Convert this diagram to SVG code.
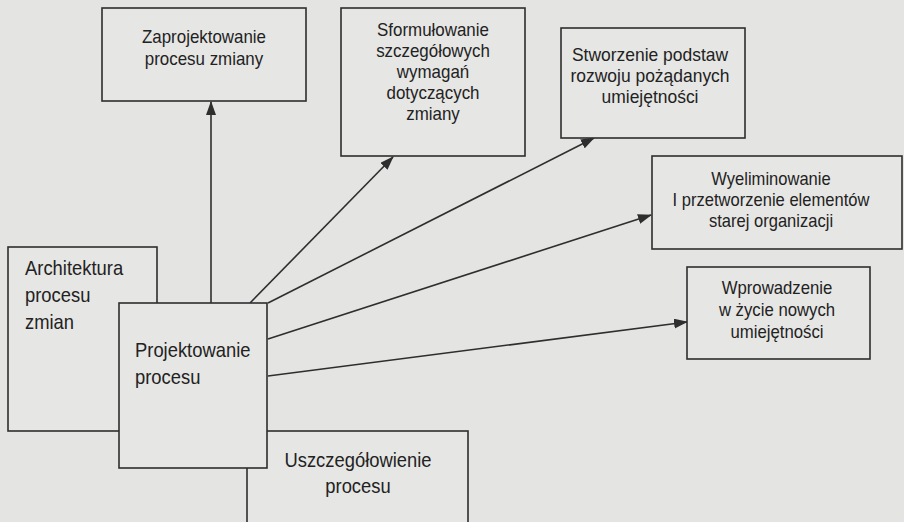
<svg xmlns="http://www.w3.org/2000/svg" width="904" height="522" viewBox="0 0 904 522">
<style>
.bg{fill:#e4e4e2}
.box{fill:#e6e6e4;stroke:#2e2e2e;stroke-width:1.6}
.edge{fill:none;stroke:#2e2e2e;stroke-width:1.6}
text{font-family:"Liberation Sans",Arial,sans-serif;font-size:20px;fill:#222}
.s{font-size:18px}
.c{text-anchor:middle}
</style>
<defs>
<marker id="ah" viewBox="0 0 14 10" refX="13" refY="5" markerWidth="14" markerHeight="10" markerUnits="userSpaceOnUse" orient="auto">
<path d="M0,0 L14,5 L0,10 Z" fill="#2e2e2e"/>
</marker>
</defs>
<rect class="bg" x="0" y="0" width="904" height="522"/>

<g id="connectors">
<line class="edge" x1="211" y1="303" x2="211" y2="102" marker-end="url(#ah)"/>
<line class="edge" x1="250" y1="303" x2="393" y2="157" marker-end="url(#ah)"/>
<line class="edge" x1="268" y1="303" x2="594" y2="138" marker-end="url(#ah)"/>
<line class="edge" x1="268" y1="339" x2="651" y2="215" marker-end="url(#ah)"/>
<line class="edge" x1="268" y1="376" x2="687" y2="322" marker-end="url(#ah)"/>
</g>

<g id="zaprojektowanie">
<rect class="box" x="102" y="8" width="204" height="93"/>
<g transform="translate(204,0) scale(0.94,1)">
<text class="c s" x="0" y="43">Zaprojektowanie</text>
<text class="c s" x="0" y="65">procesu zmiany</text>
</g>
</g>

<g id="sformulowanie">
<rect class="box" x="341" y="8" width="184" height="148"/>
<g transform="translate(433,0) scale(0.94,1)">
<text class="c s" x="0" y="36">Sformułowanie</text>
<text class="c s" x="0" y="57">szczegółowych</text>
<text class="c s" x="0" y="78">wymagań</text>
<text class="c s" x="0" y="99">dotyczących</text>
<text class="c s" x="0" y="120">zmiany</text>
</g>
</g>

<g id="stworzenie">
<rect class="box" x="561" y="28" width="184" height="110"/>
<g transform="translate(650,0) scale(0.97,1)">
<text class="c s" x="0" y="61">Stworzenie podstaw</text>
<text class="c s" x="0" y="82">rozwoju pożądanych</text>
<text class="c s" x="0" y="103">umiejętności</text>
</g>
</g>

<g id="wyeliminowanie">
<rect class="box" x="652" y="156" width="250" height="93"/>
<g transform="translate(771,0) scale(0.92,1)">
<text class="c s" x="0" y="185">Wyeliminowanie</text>
<text class="c s" x="0" y="206">I przetworzenie elementów</text>
<text class="c s" x="0" y="227">starej organizacji</text>
</g>
</g>

<g id="wprowadzenie">
<rect class="box" x="687" y="267" width="183" height="92"/>
<g transform="translate(777,0) scale(0.93,1)">
<text class="c s" x="0" y="294">Wprowadzenie</text>
<text class="c s" x="0" y="316">w życie nowych</text>
<text class="c s" x="0" y="338">umiejętności</text>
</g>
</g>

<g id="architektura">
<rect class="box" x="8" y="247" width="149" height="184"/>
<g transform="translate(25,0) scale(0.92,1)">
<text x="0" y="275">Architektura</text>
<text x="0" y="302">procesu</text>
<text x="0" y="329">zmian</text>
</g>
</g>

<g id="uszczegolowienie">
<rect class="box" x="247" y="431" width="221" height="110"/>
<g transform="translate(358,0) scale(0.92,1)">
<text class="c" x="0" y="467">Uszczegółowienie</text>
<text class="c" x="0" y="493">procesu</text>
</g>
</g>

<g id="projektowanie">
<rect class="box" x="119" y="303" width="148" height="165"/>
<g transform="translate(135,0) scale(0.92,1)">
<text x="0" y="357">Projektowanie</text>
<text x="0" y="384">procesu</text>
</g>
</g>
</svg>
